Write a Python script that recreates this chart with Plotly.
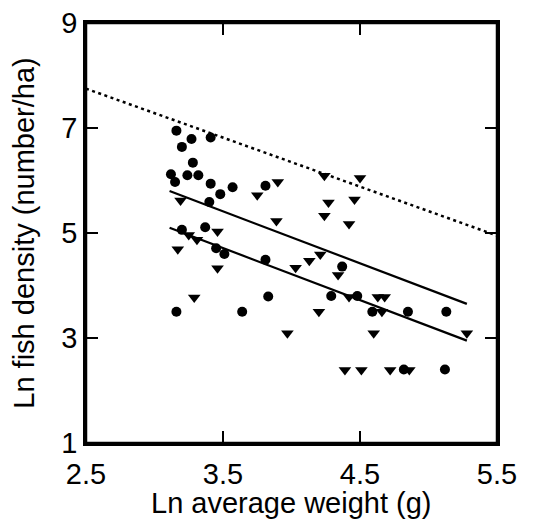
import plotly.graph_objects as go

# Circles (group 1)
circle_x = [3.16, 3.27, 3.41, 3.20, 3.28, 3.12, 3.24, 3.32, 3.15, 3.41,
            3.48, 3.57, 3.81, 3.40, 3.37, 3.20, 3.45, 3.51, 3.81, 3.83,
            3.16, 3.64, 4.37, 4.29, 4.48, 4.59, 4.85, 5.13, 4.82, 5.12]
circle_y = [6.95, 6.79, 6.82, 6.64, 6.34, 6.12, 6.10, 6.10, 5.97, 5.94,
            5.74, 5.87, 5.90, 5.59, 5.11, 5.06, 4.71, 4.60, 4.49, 3.79,
            3.50, 3.50, 4.36, 3.80, 3.80, 3.50, 3.50, 3.50, 2.40, 2.40]

# Triangles (group 2)
tri_x = [3.19, 3.75, 3.90, 3.89, 3.46, 3.25, 3.31, 3.17, 3.46, 3.29,
         4.24, 4.50, 4.27, 4.46, 4.24, 4.42, 4.21, 4.13, 4.03, 4.34,
         4.42, 4.63, 4.68, 4.20, 4.66, 3.97, 4.60, 5.28, 4.39, 4.51,
         4.72, 4.86]
tri_y = [5.62, 5.72, 5.97, 5.23, 5.03, 4.96, 4.87, 4.69, 4.33, 3.77,
         6.09, 6.05, 5.58, 5.64, 5.33, 5.17, 4.59, 4.47, 4.34, 4.20,
         3.78, 3.78, 3.78, 3.50, 3.50, 3.09, 3.09, 3.09, 2.39, 2.39,
         2.39, 2.39]

# Fitted lines
fit_tri_x = [3.11, 5.28]
fit_tri_y = [5.80, 3.65]
fit_circ_x = [3.11, 5.28]
fit_circ_y = [5.10, 2.95]
limit_x = [2.5, 5.5]
limit_y = [7.75, 4.95]

x_ticks = [2.5, 3.5, 4.5, 5.5]
y_ticks = [1, 3, 5, 7, 9]

x_title = "Ln average weight (g)"
y_title = "Ln fish density (number/ha)"

fig = go.Figure()
fig.add_trace(go.Scatter(x=limit_x, y=limit_y, mode="lines",
                         line=dict(color="black", width=2.5, dash="3px,3.5px")))
fig.add_trace(go.Scatter(x=fit_tri_x, y=fit_tri_y, mode="lines",
                         line=dict(color="black", width=2.2)))
fig.add_trace(go.Scatter(x=fit_circ_x, y=fit_circ_y, mode="lines",
                         line=dict(color="black", width=2.2)))
fig.add_trace(go.Scatter(x=circle_x, y=circle_y, mode="markers",
                         marker=dict(symbol="circle", size=10, color="black")))
fig.add_trace(go.Scatter(x=tri_x, y=tri_y, mode="markers",
                         marker=dict(symbol="triangle-down", size=11, color="black")))

font = "Liberation Sans, Arial, sans-serif"
axis_common = dict(showline=True, linecolor="black", linewidth=2.5, mirror="allticks",
                   ticks="inside", ticklen=12, tickwidth=2.2, tickcolor="black",
                   showgrid=False, zeroline=False, ticklabeloverflow="allow",
                   tickfont=dict(family=font, size=29, color="black"))

fig.update_xaxes(range=[2.5, 5.5], tickvals=x_ticks, ticktext=[str(v) for v in x_ticks],
                 ticklabelstandoff=3, **axis_common)
fig.update_yaxes(range=[1, 9], tickvals=y_ticks, ticktext=[str(v) for v in y_ticks],
                 title=dict(text=y_title, font=dict(family=font, size=29, color="black"),
                            standoff=32),
                 **axis_common)

fig.add_annotation(text=x_title, xref="paper", yref="paper", x=0.5, y=-0.143,
                   xanchor="center", yanchor="middle", showarrow=False,
                   font=dict(family=font, size=29, color="black"))

# plot frame
fig.add_shape(type="rect", xref="paper", yref="paper", x0=0, y0=0, x1=1, y1=1,
              line=dict(color="black", width=2.5), layer="above")

# page body has an 8px default margin; size/margins compensate for it
fig.update_layout(width=522, height=513, showlegend=False,
                  margin=dict(l=78, r=33, t=15, b=78, autoexpand=False),
                  plot_bgcolor="white", paper_bgcolor="white")

fig.write_html("out.html")
